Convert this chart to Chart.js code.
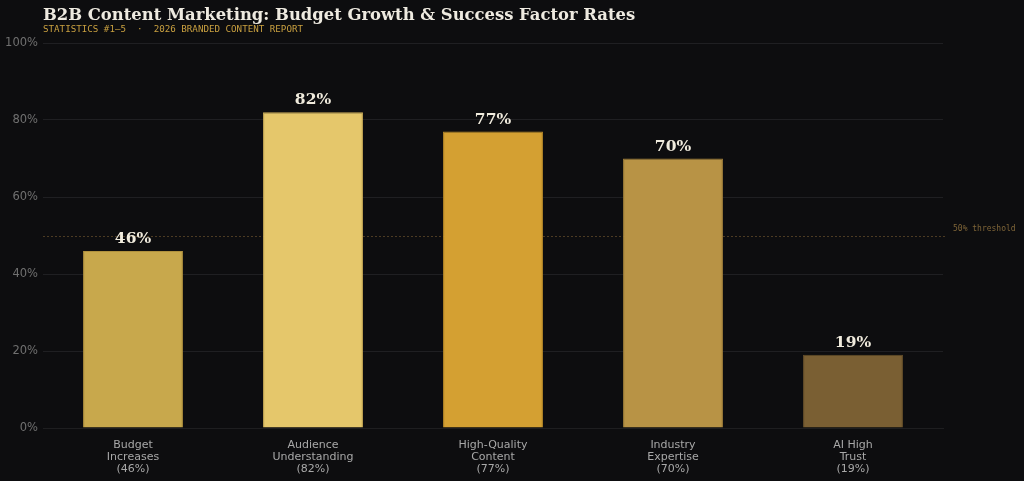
<!DOCTYPE html>
<html><head><meta charset="utf-8">
<script src="https://cdn.jsdelivr.net/npm/chart.js@4"></script>
<style>html,body{margin:0;padding:0;background:#0d0d0f;}#wrap{width:1024px;height:481px;position:relative;}</style>
</head><body><div id="wrap"><canvas id="c" width="1024" height="481"></canvas></div>
<script>
const categories = [["Budget","Increases","(46%)"],["Audience","Understanding","(82%)"],["High-Quality","Content","(77%)"],["Industry","Expertise","(70%)"],["AI High","Trust","(19%)"]];
const values = [46, 82, 77, 70, 19];
const barColors = ["#c8a84c","#e5c76b","#d4a032","#b89345","#7a5f33"];
const borderColors = ["#b0913e","#ccad57","#ba8b28","#a07f3a","#664f2a"];
const threshold = 50;
const titleText = "B2B Content Marketing: Budget Growth & Success Factor Rates";
const subtitleText = "STATISTICS #1\u20135  \u00b7  2026 BRANDED CONTENT REPORT";

const overlay = {
  id: 'overlay',
  beforeDraw(chart){
    const ctx = chart.ctx;
    ctx.save();
    ctx.fillStyle = '#0d0d0f';
    ctx.fillRect(0,0,chart.width,chart.height);
    ctx.restore();
  },
  beforeDatasetsDraw(chart){
    const ctx = chart.ctx, ca = chart.chartArea, y = chart.scales.y;
    ctx.save();
    const ty = Math.round(y.getPixelForValue(threshold)) + 0.5;
    ctx.strokeStyle = 'rgba(140,105,55,0.5)';
    ctx.lineWidth = 1;
    ctx.setLineDash([2,2]);
    ctx.beginPath(); ctx.moveTo(ca.left, ty); ctx.lineTo(ca.right + 2, ty); ctx.stroke();
    ctx.setLineDash([]);
    ctx.fillStyle = '#7f6538';
    ctx.font = '8px "DejaVu Sans Mono", monospace';
    ctx.textAlign = 'left'; ctx.textBaseline = 'middle';
    ctx.fillText(threshold + '% threshold', ca.right + 10, ty - 8);
    ctx.restore();
  },
  afterDatasetsDraw(chart){
    const ctx = chart.ctx;
    ctx.save();
    const meta = chart.getDatasetMeta(0);
    ctx.fillStyle = '#f0ebdd';
    ctx.font = 'bold 15.5px "DejaVu Serif", serif';
    ctx.textAlign = 'center'; ctx.textBaseline = 'alphabetic';
    meta.data.forEach((bar, i) => {
      ctx.fillText(values[i] + '%', bar.x, bar.y - 8);
    });
    ctx.textAlign = 'left';
    ctx.fillStyle = '#eeeae0';
    ctx.font = 'bold 16.4px "DejaVu Serif", serif';
    ctx.fillText(titleText, 43, 20);
    ctx.fillStyle = '#c9a040';
    ctx.font = '9.2px "DejaVu Sans Mono", monospace';
    ctx.fillText(subtitleText, 43, 32);
    ctx.restore();
  }
};

new Chart(document.getElementById('c'), {
  type: 'bar',
  data: {
    labels: categories,
    datasets: [{
      data: values,
      backgroundColor: barColors,
      borderColor: borderColors,
      borderWidth: 1,
      barPercentage: 0.555,
      categoryPercentage: 1.0
    }]
  },
  options: {
    responsive: false,
    animation: false,
    layout: { padding: { top: 43, right: 81, left: 0, bottom: 0 } },
    plugins: { legend: { display: false }, tooltip: { enabled: false }, title: { display: false } },
    scales: {
      x: {
        grid: { display: false, drawTicks: true },
        border: { color: '#1e1e20' },
        ticks: { color: '#a8a8a8', font: { family: '"DejaVu Sans", sans-serif', size: 11, lineHeight: 1.1 }, padding: 3, maxRotation: 0 },
        afterFit(s){ s.height = 53; }
      },
      y: {
        min: 0, max: 100,
        ticks: { stepSize: 20, color: '#707070', font: { family: '"DejaVu Sans", sans-serif', size: 11.5 }, padding: 5, callback: v => v + '%' },
        grid: { color: '#1f1f22', drawTicks: false },
        border: { display: false },
        afterFit(s){ s.width = 43; }
      }
    }
  },
  plugins: [overlay]
});
</script></body></html>
